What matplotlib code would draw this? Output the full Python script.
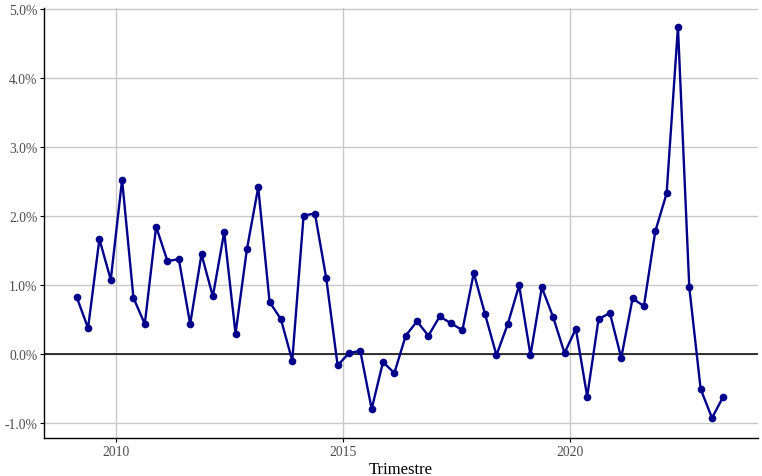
import matplotlib
matplotlib.use("Agg")
import matplotlib.pyplot as plt
from matplotlib.ticker import FuncFormatter

# Quarterly series, 2009Q1 .. 2023Q2 (mid-quarter positions)
years = list(range(2009, 2024))
quarters = [y + (q - 1) / 4 + 0.125 for y in years for q in range(1, 5)][:58]

values = [
    0.83, 0.38, 1.67, 1.08, 2.53, 0.82, 0.44, 1.85, 1.35, 1.38,
    0.44, 1.45, 0.84, 1.77, 0.30, 1.52, 2.42, 0.76, 0.51, -0.09,
    2.01, 2.04, 1.10, -0.16, 0.02, 0.05, -0.79, -0.11, -0.27, 0.27,
    0.48, 0.27, 0.55, 0.45, 0.35, 1.18, 0.58, -0.01, 0.44, 1.00,
    -0.01, 0.97, 0.54, 0.02, 0.37, -0.61, 0.51, 0.60, -0.05, 0.81,
    0.70, 1.78, 2.33, 4.74, 0.97, -0.50, -0.92, -0.61,
]

x_ticks = [2010, 2015, 2020]
y_ticks = [-1, 0, 1, 2, 3, 4, 5]

plt.rcParams["font.family"] = ["Liberation Serif", "DejaVu Serif"]

fig = plt.figure(figsize=(7.62, 4.77), dpi=100)
ax = fig.add_axes([0.0581, 0.0797, 0.9367, 0.9021])

ax.plot(quarters, values, color="#00008B", linewidth=1.7,
        marker="o", markersize=4.5, zorder=3)
ax.axhline(0, color="black", linewidth=1.1, zorder=2)

ax.set_xlim(2008.41, 2024.14)
ax.set_ylim(-1.21, 5.02)
ax.set_xticks(x_ticks)
ax.set_yticks(y_ticks)
ax.yaxis.set_major_formatter(FuncFormatter(lambda v, _: f"{v:.1f}%"))

ax.grid(True, color="#c8c8c8", linewidth=1.0)
ax.set_axisbelow(True)

for side in ["top", "right"]:
    ax.spines[side].set_visible(False)
for side in ["left", "bottom"]:
    ax.spines[side].set_color("black")
    ax.spines[side].set_linewidth(1.0)

ax.tick_params(axis="both", labelsize=9.8, colors="black", labelcolor="#4d4d4d",
               length=3, width=0.8, pad=2)
ax.set_xlabel("Trimestre", fontsize=12, labelpad=2)

fig.savefig("out.png", dpi=100)
